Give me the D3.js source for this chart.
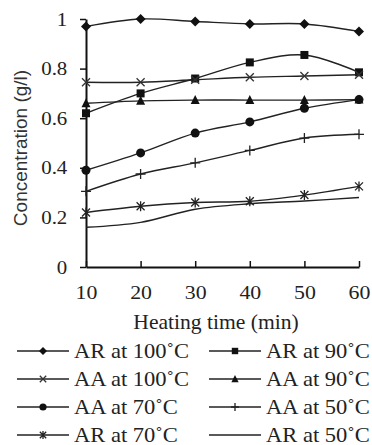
<!DOCTYPE html>
<html>
<head>
<meta charset="utf-8">
<script src="https://cdn.jsdelivr.net/npm/d3@7"></script>
<style>
  body { margin: 0; background: #fff; }
  svg { display: block; }
</style>
</head>
<body>
<div id="chart"></div>
<script>
// heating time (min)
const times = [10, 20, 30, 40, 50, 60];
// concentrations (g/l)
const arAt100 = [0.97, 1.0, 0.99, 0.98, 0.98, 0.95];
const arAt90 = [0.62, 0.70, 0.76, 0.825, 0.855, 0.785];
const aaAt100 = [0.745, 0.745, 0.755, 0.765, 0.77, 0.775];
const aaAt90 = [0.66, 0.67, 0.673, 0.673, 0.673, 0.675];
const aaAt70 = [0.39, 0.46, 0.54, 0.585, 0.64, 0.675];
const aaAt50 = [0.305, 0.375, 0.42, 0.47, 0.52, 0.535];
const arAt70 = [0.22, 0.245, 0.26, 0.265, 0.29, 0.325];
const arAt50 = [0.16, 0.18, 0.233, 0.255, 0.266, 0.28];
const yTicks = [0, 0.2, 0.4, 0.6, 0.8, 1];
const xLabel = "Heating time (min)";
const yLabel = "Concentration (g/l)";

const series = [
  { name: "AR at 100\u02DAC", values: arAt100, mark: "diamond" },
  { name: "AR at 90\u02DAC", values: arAt90, mark: "square" },
  { name: "AA at 100\u02DAC", values: aaAt100, mark: "cross" },
  { name: "AA at 90\u02DAC", values: aaAt90, mark: "triangle" },
  { name: "AA at 70\u02DAC", values: aaAt70, mark: "circle" },
  { name: "AA at 50\u02DAC", values: aaAt50, mark: "plus" },
  { name: "AR at 70\u02DAC", values: arAt70, mark: "asterisk" },
  { name: "AR at 50\u02DAC", values: arAt50, mark: "none" }
];

var W = 372, H = 445;
var svg = d3.select("#chart").append("svg")
  .attr("width", W).attr("height", H);

var x = d3.scaleLinear().domain([10, 60]).range([86, 359]);
var y = d3.scaleLinear().domain([0, 1]).range([267, 19]);

const serif = "'Liberation Serif', 'Times New Roman', serif";

// axes
var xAxis = svg.append("g")
  .attr("transform", "translate(0," + y(0) + ")")
  .call(d3.axisBottom(x).tickValues(times).tickSizeInner(-6).tickSizeOuter(0));
var yAxis = svg.append("g")
  .attr("transform", "translate(" + x(10) + ",0)")
  .call(d3.axisLeft(y).tickValues(yTicks).tickSize(6).tickSizeOuter(0)
    .tickFormat(d => d3.format("~g")(d)));

[xAxis, yAxis].forEach(a => {
  a.select(".domain").attr("stroke", "#111").attr("stroke-width", 2);
  a.selectAll(".tick line").attr("stroke", "#111").attr("stroke-width", 1.5);
  a.selectAll(".tick text")
    .attr("fill", "#222")
    .style("font-family", serif)
    .style("font-size", "19px");
});
xAxis.selectAll(".tick text").attr("dy", "0.35em").attr("y", 25)
  .attr("transform", "scale(1.15,1)");
yAxis.selectAll(".tick text").attr("x", -17).attr("transform", "scale(1.1,1)");

// lines
var line = d3.line()
  .x((d, i) => x(times[i]))
  .y(d => y(d))
  .curve(d3.curveCatmullRom.alpha(0.5));

function drawMark(g, kind, cx, cy, k) {
  k = k || 1;
  if (kind === "diamond") {
    const r = 5 * k;
    g.append("path").attr("d", `M${cx},${cy - r}L${cx + r},${cy}L${cx},${cy + r}L${cx - r},${cy}Z`)
      .attr("fill", "#111");
  } else if (kind === "square") {
    const r = 4 * k;
    g.append("rect").attr("x", cx - r).attr("y", cy - r).attr("width", 2 * r).attr("height", 2 * r)
      .attr("fill", "#111");
  } else if (kind === "triangle") {
    g.append("path").attr("d", `M${cx},${cy - 5 * k}L${cx + 4.5 * k},${cy + 4 * k}L${cx - 4.5 * k},${cy + 4 * k}Z`)
      .attr("fill", "#111");
  } else if (kind === "circle") {
    g.append("circle").attr("cx", cx).attr("cy", cy).attr("r", 4.5 * k).attr("fill", "#111");
  } else if (kind === "cross") {
    const r = 4 * k;
    g.append("path").attr("d", `M${cx - r},${cy - r}L${cx + r},${cy + r}M${cx - r},${cy + r}L${cx + r},${cy - r}`)
      .attr("stroke", "#333").attr("stroke-width", 1.3);
  } else if (kind === "plus") {
    const r = 5 * k;
    g.append("path").attr("d", `M${cx},${cy - r}L${cx},${cy + r}M${cx - r},${cy}L${cx + r},${cy}`)
      .attr("stroke", "#222").attr("stroke-width", 1.3);
  } else if (kind === "asterisk") {
    const r = 4 * k;
    g.append("path").attr("d", `M${cx - r},${cy - r}L${cx + r},${cy + r}M${cx - r},${cy + r}L${cx + r},${cy - r}M${cx},${cy - 5 * k}L${cx},${cy + 5 * k}`)
      .attr("stroke", "#222").attr("stroke-width", 1.3);
  }
}

const plot = svg.append("g");
series.forEach(s => {
  plot.append("path")
    .datum(s.values)
    .attr("d", line)
    .attr("fill", "none")
    .attr("stroke", "#222")
    .attr("stroke-width", 1.4);
  const mg = plot.append("g");
  s.values.forEach((v, i) => drawMark(mg, s.mark, x(times[i]), y(v)));
});

// axis titles
svg.append("text")
  .attr("transform", "translate(216,322) scale(1.08,1)")
  .attr("text-anchor", "middle").attr("dominant-baseline", "central")
  .style("font-family", serif).style("font-size", "20px").attr("fill", "#222")
  .text(xLabel);

svg.append("text")
  .attr("transform", "translate(20,148) rotate(-90)")
  .attr("text-anchor", "middle").attr("dominant-baseline", "central")
  .style("font-family", "'Liberation Sans', Arial, sans-serif").style("font-size", "19px")
  .attr("fill", "#333")
  .text(yLabel);

// legend: two columns, four rows
const legend = svg.append("g");
series.forEach((s, i) => {
  const col = i % 2, row = Math.floor(i / 2);
  const x0 = col === 0 ? 17 : 209;
  const cy = 351 + row * 28;
  const g = legend.append("g");
  g.append("line").attr("x1", x0).attr("x2", x0 + 52).attr("y1", cy).attr("y2", cy)
    .attr("stroke", "#222").attr("stroke-width", 1.4);
  drawMark(g, s.mark, x0 + 26, cy, 0.8);
  g.append("text")
    .attr("transform", "translate(" + (x0 + 57) + "," + cy + ") scale(1.1,1)")
    .attr("dominant-baseline", "central")
    .style("font-family", serif).style("font-size", "20.5px").attr("fill", "#222")
    .text(s.name);
});
</script>
</body>
</html>
